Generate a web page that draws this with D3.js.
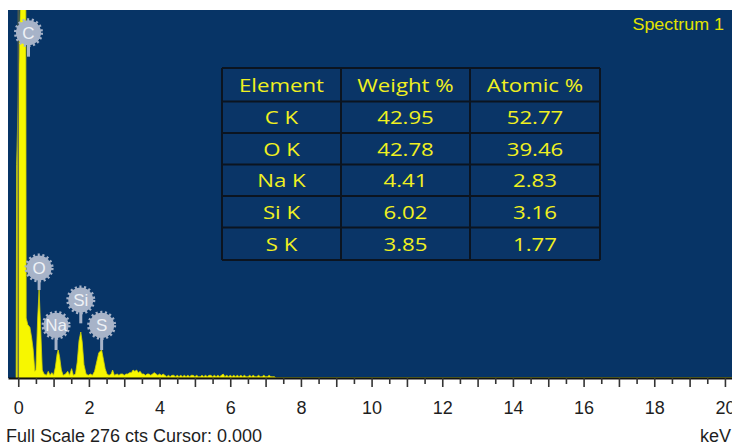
<!DOCTYPE html>
<html>
<head>
<meta charset="utf-8">
<script src="https://cdn.jsdelivr.net/npm/d3@7"></script>
<style>
  html, body { margin: 0; padding: 0; background: #ffffff; }
  svg { display: block; }
</style>
</head>
<body>
<svg id="chart" width="732" height="446"></svg>
<script>
// ---- Spectrum data: energy (keV) and counts ----
const spectrumKeV = [
  -0.06, -0.045, 0.07, 0.12, 0.20, 0.225, 0.27, 0.33, 0.38, 0.42, 0.47, 0.50,
  0.55, 0.59, 0.63, 0.68, 0.73, 0.80, 0.85, 0.90, 0.95, 1.00,
  1.05, 1.10, 1.13, 1.17, 1.22, 1.27, 1.34, 1.40, 1.45, 1.51, 1.56, 1.62,
  1.67, 1.72, 1.77, 1.81, 1.86, 1.92, 1.98, 2.04, 2.10,
  2.16, 2.22, 2.28, 2.36, 2.41, 2.46, 2.51, 2.57, 2.63, 2.67, 2.72,
  2.80, 2.85, 2.90, 2.95, 3.00, 3.05, 3.10, 3.15, 3.20, 3.25, 3.30, 3.35,
  3.40, 3.45, 3.50, 3.55, 3.60, 3.65, 3.70, 3.75, 3.80, 3.85, 3.90, 3.95,
  4.00, 4.05, 4.10, 4.15, 4.20, 4.25, 4.30, 4.35, 4.40, 4.45, 4.50, 4.55,
  4.60, 4.65, 4.70, 4.75, 4.80, 4.85, 4.90, 4.95, 5.00, 5.05, 5.10, 5.15,
  5.20, 5.25, 5.30, 5.35, 5.40, 5.45, 5.50, 5.55, 5.60, 5.65, 5.70, 5.75,
  5.80, 5.85, 5.90, 5.95, 6.00, 6.05, 6.10, 6.15, 6.20, 6.25, 6.30, 6.35,
  6.40, 6.45, 6.50, 6.55, 6.60, 6.65, 6.70, 6.75, 6.80, 6.85, 6.90, 6.95,
  7.00, 7.05, 7.10, 7.15, 7.20, 7.25, 7.30, 20.2
];
const spectrumCounts = [
  0, 160, 290, 1200, 600, 45, 40, 38, 30, 22, 5, 6,
  45, 66, 40, 6, 3, 2, 5, 2, 4, 2,
  8, 18, 21, 16, 6, 2, 3, 5, 2, 7, 2, 3,
  12, 28, 34.5, 27, 10, 3, 2, 3, 2,
  5, 12, 19, 21, 14, 7, 3, 2, 3, 6, 2,
  3, 2, 3, 3, 2, 3, 3, 4, 4, 6, 5, 6,
  4, 5, 3, 3, 2, 3, 3, 2, 3, 4, 3, 2,
  3, 2, 3, 2, 1, 2, 1, 2, 2, 1, 2, 1,
  2, 1, 2, 1, 2, 1, 2, 2, 1, 2, 1, 1,
  2, 1, 2, 1, 2, 2, 1, 2, 1, 2, 1, 2,
  3, 1, 2, 1, 2, 1, 2, 1, 2, 1, 2, 1,
  2, 1, 1, 2, 1, 2, 1, 1, 2, 1, 1, 2,
  1, 1, 2, 1, 1, 1, 0, 0
];
const fullScaleCounts = 276;
const cursorKeV = 0;

// Element markers: energy, marker height (counts), stem end (counts)
const peakLabels = [
  { el: "C",  keV: 0.29, at: 259,  stemTo: 241 },
  { el: "O",  keV: 0.59, at: 82.5, stemTo: 66 },
  { el: "Na", keV: 1.07, at: 39.5, stemTo: 21 },
  { el: "Si", keV: 1.77, at: 58.5, stemTo: 41 },
  { el: "S",  keV: 2.36, at: 39.5, stemTo: 21 }
];

// Quantification table
const tableHeader   = ["Element", "Weight %", "Atomic %"];
const tableElements = ["C K", "O K", "Na K", "Si K", "S K"];
const weightPct     = ["42.95", "42.78", "4.41", "6.02", "3.85"];
const atomicPct     = ["52.77", "39.46", "2.83", "3.16", "1.77"];

const xTickValues = d3.range(0, 20.001, 0.5);
const xTickLabels = [0, 2, 4, 6, 8, 10, 12, 14, 16, 18, 20];

// ---- Layout ----
const plot = { left: 8, right: 732, top: 10, bottom: 378 };
const navy = "#073466";
const yellow = "#f7f700";

const svg = d3.select("#chart");

const x = d3.scaleLinear().domain([-0.29, 20.2]).range([plot.left, plot.right]);
const y = d3.scaleLinear().domain([0, fullScaleCounts]).range([plot.bottom, plot.top]);

// plot background
svg.append("rect")
  .attr("x", plot.left).attr("y", plot.top)
  .attr("width", plot.right - plot.left).attr("height", plot.bottom - plot.top)
  .attr("fill", navy);

svg.append("clipPath").attr("id", "plotClip")
  .append("rect")
  .attr("x", plot.left).attr("y", plot.top)
  .attr("width", plot.right - plot.left).attr("height", plot.bottom - plot.top);

// spectrum
const spectrum = spectrumKeV.map((k, i) => ({ k, c: spectrumCounts[i] }));
const area = d3.area()
  .x(d => x(d.k))
  .y0(y(0))
  .y1(d => y(d.c))
  .curve(d3.curveLinear);

svg.append("path")
  .datum(spectrum)
  .attr("clip-path", "url(#plotClip)")
  .attr("d", area)
  .attr("fill", yellow)
  .attr("stroke", "#d2d200")
  .attr("stroke-width", 0.8);

// cursor line
svg.append("line")
  .attr("x1", x(cursorKeV)).attr("x2", x(cursorKeV))
  .attr("y1", plot.top).attr("y2", plot.bottom)
  .attr("stroke", "#55604c")
  .attr("stroke-width", 1.6)
  .attr("stroke-opacity", 0.85);

// element markers
const markerFill = "#a7b3c8";
const markers = svg.append("g").attr("clip-path", "url(#plotClip)")
  .selectAll("g").data(peakLabels).join("g");

markers.append("line")
  .attr("x1", d => x(d.keV)).attr("x2", d => x(d.keV))
  .attr("y1", d => y(d.at))
  .attr("y2", d => y(d.stemTo))
  .attr("stroke", markerFill)
  .attr("stroke-width", 3);

markers.append("circle")
  .attr("cx", d => x(d.keV)).attr("cy", d => y(d.at))
  .attr("r", 12.5)
  .attr("fill", markerFill)
  .attr("stroke", markerFill)
  .attr("stroke-width", 4)
  .attr("stroke-dasharray", "2 2.4");

markers.append("text")
  .attr("x", d => x(d.keV)).attr("y", d => y(d.at))
  .attr("dy", "0.36em")
  .attr("text-anchor", "middle")
  .attr("font-family", "Liberation Sans, Arial, sans-serif")
  .attr("font-size", 17)
  .attr("fill", "#eef1f6")
  .text(d => d.el);

// x axis
const xAxis = d3.axisBottom(x)
  .tickValues(xTickValues)
  .tickSize(9)
  .tickSizeOuter(0)
  .tickFormat(d => xTickLabels.includes(d) ? d : "");

const axisG = svg.append("g")
  .attr("transform", `translate(0,${plot.bottom})`)
  .call(xAxis);

axisG.select(".domain").attr("stroke", "#111").attr("stroke-width", 2);
axisG.selectAll(".tick line")
  .attr("stroke", "#333")
  .attr("stroke-width", 1.6)
  .attr("y2", d => Number.isInteger(d) ? 9 : 6);
axisG.selectAll(".tick text")
  .attr("y", 23)
  .attr("dy", "0.71em")
  .attr("font-family", "Liberation Sans, Arial, sans-serif")
  .attr("font-size", 18)
  .attr("fill", "#1e1e1e");

// footer texts
svg.append("text")
  .attr("x", 6).attr("y", 442)
  .attr("font-family", "Liberation Sans, Arial, sans-serif")
  .attr("font-size", 18)
  .attr("fill", "#1e1e1e")
  .text(`Full Scale ${fullScaleCounts} cts Cursor: ${cursorKeV.toFixed(3)}`);

svg.append("text")
  .attr("x", 731).attr("y", 442)
  .attr("text-anchor", "end")
  .attr("font-family", "Liberation Sans, Arial, sans-serif")
  .attr("font-size", 18)
  .attr("fill", "#1e1e1e")
  .text("keV");

// spectrum title
svg.append("text")
  .attr("transform", "translate(724,30) scale(1.12,1)")
  .attr("text-anchor", "end")
  .attr("font-family", "Liberation Sans, Arial, sans-serif")
  .attr("font-size", 16)
  .attr("fill", "#e2e200")
  .text("Spectrum 1");

// ---- Quantification table ----
const colEdges = [222, 341, 470, 600];
const rowEdges = [68, 101.5, 133, 164.5, 196, 227.5, 260];
const tableRows = [tableHeader].concat(
  tableElements.map((e, i) => [e, weightPct[i], atomicPct[i]])
);

const table = svg.append("g");
table.append("rect")
  .attr("x", colEdges[0]).attr("y", rowEdges[0])
  .attr("width", colEdges[3] - colEdges[0])
  .attr("height", rowEdges[rowEdges.length - 1] - rowEdges[0])
  .attr("fill", "#0a3567");

const borderColor = "#0b1420";
table.selectAll("line.row")
  .data(rowEdges).join("line")
  .attr("x1", colEdges[0]).attr("x2", colEdges[3])
  .attr("y1", d => d).attr("y2", d => d)
  .attr("stroke", borderColor).attr("stroke-width", 2);
table.selectAll("line.col")
  .data(colEdges).join("line")
  .attr("x1", d => d).attr("x2", d => d)
  .attr("y1", rowEdges[0]).attr("y2", rowEdges[rowEdges.length - 1])
  .attr("stroke", borderColor).attr("stroke-width", 2);

tableRows.forEach((row, r) => {
  const cy = (rowEdges[r] + rowEdges[r + 1]) / 2;
  row.forEach((cell, c) => {
    const cx = (colEdges[c] + colEdges[c + 1]) / 2;
    table.append("text")
      .attr("transform", `translate(${cx},${cy + 6.8}) scale(1.17,1)`)
      .attr("text-anchor", "middle")
      .attr("font-family", "Open Sans, sans-serif")
      .attr("font-weight", 500)
      .attr("font-size", 19)
      .attr("fill", "#f0f020")
      .text(cell);
  });
});
</script>
</body>
</html>
